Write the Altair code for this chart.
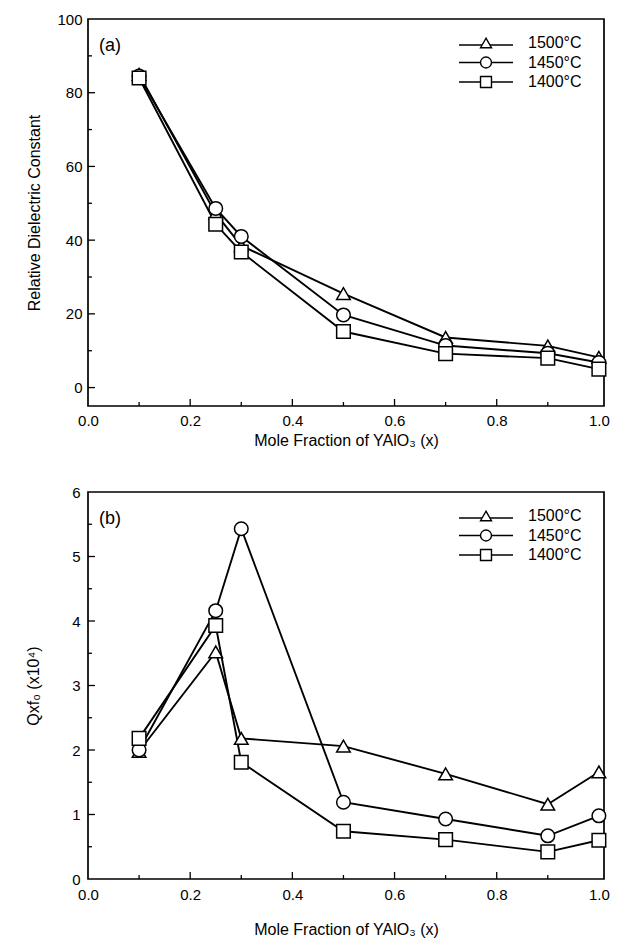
import altair as alt
import pandas as pd

# ---------------- data ----------------
x_vals = [0.1, 0.25, 0.3, 0.5, 0.7, 0.9, 1.0]
series = ["1500°C", "1450°C", "1400°C"]

eps_1500 = [85.0, 47.2, 38.5, 25.5, 13.6, 11.3, 8.2]
eps_1450 = [84.5, 48.6, 41.0, 19.7, 11.4, 9.3, 6.8]
eps_1400 = [84.0, 44.3, 36.8, 15.2, 9.2, 8.0, 5.0]

qf_1500 = [1.98, 3.52, 2.18, 2.06, 1.63, 1.16, 1.66]
qf_1450 = [2.00, 4.16, 5.43, 1.19, 0.93, 0.67, 0.98]
qf_1400 = [2.18, 3.93, 1.81, 0.74, 0.61, 0.42, 0.60]

x_major = [0.0, 0.2, 0.4, 0.6, 0.8, 1.0]
x_minor = [0.1, 0.3, 0.5, 0.7, 0.9]
ya_major = [0, 20, 40, 60, 80, 100]
ya_minor = [10, 30, 50, 70, 90]
yb_major = [0, 1, 2, 3, 4, 5, 6]
yb_minor = [0.5, 1.5, 2.5, 3.5, 4.5, 5.5]

FONT = "Liberation Sans"
W, H = 516, 387

plot_shapes = ["triangle-up", "circle", "square"]


def long_df(cols):
    rows = []
    for s, vals in zip(series, cols):
        for x, v in zip(x_vals, vals):
            rows.append({"x": x, "v": v, "s": s})
    return pd.DataFrame(rows)


def legend_layers():
    out = []
    for i, (s, shp) in enumerate(zip(series, plot_shapes)):
        ry = 24 + i * 19.5
        d = pd.DataFrame({"t": [s]})
        out.append(alt.Chart(d).mark_rule(color="black", strokeWidth=1.7).encode(
            x=alt.value(371), x2=alt.value(425), y=alt.value(ry + (2 if i == 0 else 0))))
        out.append(alt.Chart(d).mark_point(shape=shp, filled=True, fill="white", stroke="black",
                                           strokeWidth=1.4, size=120, opacity=1).encode(
            x=alt.value(398), y=alt.value(ry)))
        out.append(alt.Chart(d).mark_text(font=FONT, fontSize=16, align="left", baseline="middle",
                                          color="black").encode(
            text="t:N", x=alt.value(440), y=alt.value(ry)))
    return out


def panel(df, ydom, ymaj, ymin, ytitle, yfmt, tag, ytp, ylp, xlp, xtp):
    X = alt.X("x:Q", scale=alt.Scale(domain=[0, 1.01], nice=False, zero=False),
              axis=alt.Axis(values=x_major, format=".1f", title="Mole Fraction of YAlO₃ (x)",
                            ticks=False, domain=False, grid=False, labelPadding=xlp,
                            labelFlush=False, titlePadding=xtp))
    Y = alt.Y("v:Q", scale=alt.Scale(domain=ydom, nice=False, zero=False),
              axis=alt.Axis(values=ymaj, format=yfmt, title=ytitle, ticks=False,
                            domain=False, grid=False, labelPadding=ylp, labelFlush=False,
                            titlePadding=ytp))

    base = alt.Chart(df)
    lines = base.mark_line(color="black", strokeWidth=1.9).encode(x=X, y=Y, detail="s:N")
    pts = base.mark_point(filled=True, fill="white", stroke="black", strokeWidth=1.5,
                          size=185, opacity=1).encode(
        x=X, y=Y,
        shape=alt.Shape("s:N", scale=alt.Scale(domain=series, range=plot_shapes), legend=None))

    xmaj = alt.Chart(pd.DataFrame({"x": x_major[1:-1]})).mark_rule(color="black", strokeWidth=1.3).encode(
        x=X, y=alt.value(H), y2=alt.value(H - 7))
    xmin = alt.Chart(pd.DataFrame({"x": x_minor})).mark_rule(color="black", strokeWidth=1.3).encode(
        x=X, y=alt.value(H), y2=alt.value(H - 4))
    ymj = alt.Chart(pd.DataFrame({"v": ymaj[1:-1] if ydom[0] == ymaj[0] else ymaj[:-1]})).mark_rule(
        color="black", strokeWidth=1.3).encode(y=Y, x=alt.value(0), x2=alt.value(7))
    ymn = alt.Chart(pd.DataFrame({"v": ymin})).mark_rule(color="black", strokeWidth=1.3).encode(
        y=Y, x=alt.value(0), x2=alt.value(4))

    label = alt.Chart(pd.DataFrame({"t": [tag]})).mark_text(
        font=FONT, fontSize=18, align="left", baseline="middle", color="black").encode(
        text="t:N", x=alt.value(11), y=alt.value(27))

    return alt.layer(lines, pts, xmaj, xmin, ymj, ymn, label, *legend_layers()).properties(
        width=W, height=H)


top = panel(long_df([eps_1500, eps_1450, eps_1400]), [-5, 100], ya_major, ya_minor,
            "Relative Dielectric Constant", "d", "(a)", 14, 6, 7, 4)
bot = panel(long_df([qf_1500, qf_1450, qf_1400]), [0, 6], yb_major, yb_minor,
            "Qxf₀  (x10⁴)", "d", "(b)", 30, 8, 8, 19)

chart = alt.vconcat(top, bot, spacing=35).properties(
    padding={"left": 16, "top": 3, "right": 5, "bottom": 5},
    background="white",
).configure_view(stroke="black", strokeWidth=1.7).configure_axis(
    labelFont=FONT, labelFontSize=15, labelColor="black",
    titleFont=FONT, titleFontSize=16, titleFontWeight="normal", titleColor="black"
)

chart.save("out.html", embed_options={"renderer": "svg", "actions": False})
